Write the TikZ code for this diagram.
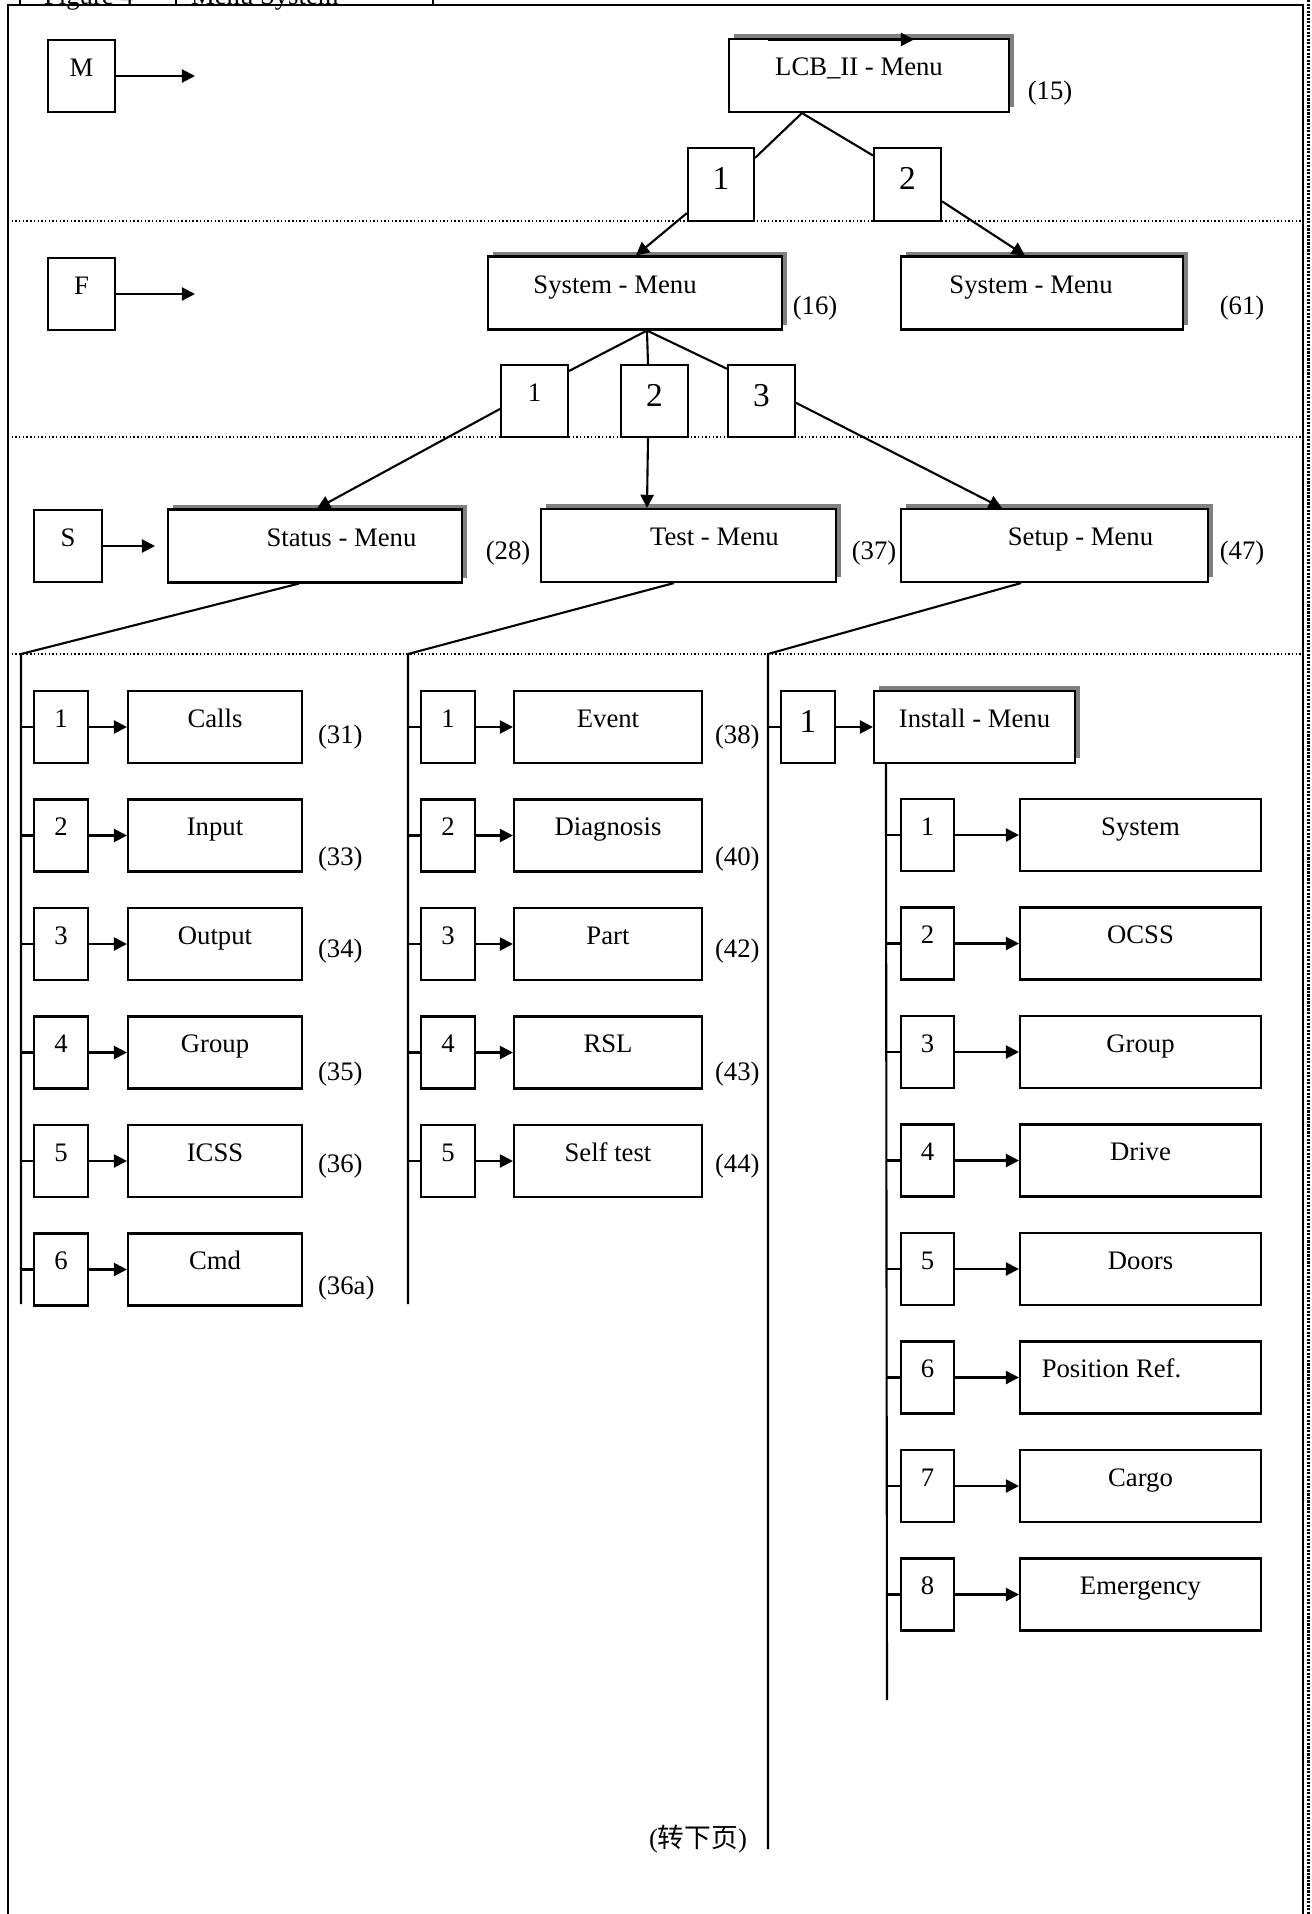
\documentclass[tikz,border=0pt]{standalone}
\usepackage{fontspec}
\setmainfont{Liberation Serif}
\newfontfamily\cjk{Noto Sans CJK SC}
\usepackage{tikz}
\usetikzlibrary{arrows.meta,shadows,calc}

\tikzset{
  cell/.style={draw, fill=white, inner sep=0pt, minimum height=1.44cm,
    text height=10pt, text depth=10pt},
  numbox/.style={cell, minimum width=1.08cm},
  bignum/.style={font=\fontsize{19}{22}\selectfont, text height=14pt, text depth=8pt},
  menubox/.style={cell, minimum height=1.46cm,
    drop shadow={shadow xshift=0.1cm, shadow yshift=0.1cm, fill=gray, opacity=1}},
  lbl/.style={inner sep=0pt},
  arr/.style={-{Triangle[length=7.5pt,width=7.5pt]}},
  sep/.style={line width=0.7pt, dash pattern=on 0.8pt off 1.3pt},
}

\begin{document}
\begin{tikzpicture}[x=0.02cm, y=-0.02cm, line width=1.2pt,
    font=\fontsize{15.2}{18}\selectfont]
  \useasboundingbox (0,0) rectangle (1312,1914);

  % Cornice
  \draw (8,1914) -- (8,5) -- (1303,5) -- (1303,1914);
  \draw[line width=1.6pt, dash pattern=on 1.2pt off 0.8pt] (1308.5,0) -- (1308.5,1914);
  \draw (20,0) -- (20,5) (176,0) -- (176,5) (433,0) -- (433,5);
  \node[anchor=base west, inner sep=0pt] (fig) at (43,4) {Figure 4};
  \node[anchor=base west, inner sep=0pt] (figtitle) at (190,4) {Menu System};

  % Livelli
  \draw[sep] (8,221) -- (1303,221);
  \draw[sep] (8,437) -- (1303,437);
  \draw[sep] (8,654) -- (1303,654);

  % Menu principale
  \node[cell, minimum width=1.34cm] (keyM) at (81.5,76) {M};
  \coordinate (keyMto) at (195,76);
  \draw[arr] (keyM) -- (keyMto);
  \node[menubox, minimum width=5.6cm] (lcb) at (869,75.5) {LCB\_II - Menu\hspace*{0.4cm}};
  \node[lbl] (l15) at (1050,93) {(15)};
  \coordinate (ta) at (768,39.5);
  \coordinate (tb) at (914,39.5);
  \draw[arr] (ta) -- (tb);

  \node[cell, bignum, minimum width=1.32cm, minimum height=1.46cm] (n1a) at (721,184.5) {1};
  \node[cell, bignum, minimum width=1.34cm, minimum height=1.46cm] (n1b) at (907.5,184.5) {2};
  \coordinate (lcbfoot) at ($(lcb.south west)+(74,0)$);
  \draw (lcbfoot) -- (n1a.38);
  \draw (lcbfoot) -- (n1b.140);

  % Livello F
  \node[cell, minimum width=1.34cm] (keyF) at (81.5,294) {F};
  \coordinate (keyFto) at (195,294);
  \draw[arr] (keyF) -- (keyFto);
  \node[menubox, minimum width=5.88cm] (sys16) at (635,293) {System - Menu\hspace*{0.8cm}};
  \node[menubox, minimum width=5.64cm] (sys61) at (1042,293) {System - Menu\hspace*{0.44cm}};
  \node[lbl] (l16) at (815,308) {(16)};
  \node[lbl] (l61) at (1242,308) {(61)};
  \draw[arr] (n1a.220) -- ($(sys16.north west)+(149,0)$);
  \draw[arr] (n1b.-26) -- ($(sys61.north west)+(125,0)$);

  \node[cell, minimum width=1.34cm] (n2a) at (534.5,401) {1};
  \node[cell, bignum, minimum width=1.34cm] (n2b) at (654.5,401) {2};
  \node[cell, bignum, minimum width=1.34cm] (n2c) at (761.5,401) {3};
  \coordinate (sysfoot) at ($(sys16.south west)+(160,0)$);
  \draw (sysfoot) -- (n2a.41);
  \draw (sysfoot) -- ($(n2b.north)+(-6.5,0)$);
  \draw (sysfoot) -- (n2c.137);

  % Livello S
  \node[cell, minimum width=1.36cm] (keyS) at (68,546) {S};
  \coordinate (keySto) at (155,546);
  \draw[arr] (keyS) -- (keySto);
  \node[menubox, minimum width=5.88cm] (status) at (315,546) {\hspace*{1.06cm}Status - Menu};
  \node[menubox, minimum width=5.9cm] (test) at (688.5,545.5) {\hspace*{1.04cm}Test - Menu};
  \node[menubox, minimum width=6.14cm] (setup) at (1054.5,545.5) {\hspace*{1.04cm}Setup - Menu};
  \node[lbl] (l28) at (508,553) {(28)};
  \node[lbl] (l37) at (874,553) {(37)};
  \node[lbl] (l47) at (1242,553) {(47)};
  \draw[arr] (n2a.193) -- ($(status.north west)+(150,0)$);
  \draw[arr] ($(n2b.south)+(-6.5,0)$) -- ($(test.north west)+(107,0)$);
  \draw[arr] (n2c.-3) -- ($(setup.north west)+(102,0)$);

  % Colonne
  \coordinate (c1top) at (21,654);
  \coordinate (c1end) at (21,1304);
  \coordinate (c2top) at (408,654);
  \coordinate (c2end) at (408,1304);
  \coordinate (c3top) at (768,654);
  \coordinate (c3end) at (768,1849);
  \draw ($(status.south west)+(132,0)$) -- (c1top) -- (c1end);
  \draw ($(test.south west)+(134,0)$) -- (c2top) -- (c2end);
  \draw ($(setup.south west)+(121,0)$) -- (c3top) -- (c3end);

  % Status
  \foreach \n/\t/\lab/\ly in {1/Calls/31/737, 2/Input/33/859, 3/Output/34/951,
      4/Group/35/1074, 5/ICSS/36/1166, 6/Cmd/36a/1288}{
    \pgfmathsetmacro\yy{727+108.5*(\n-1)}
    \node[numbox] (sn\n) at (61,\yy) {\n};
    \node[cell, minimum width=3.48cm] (si\n) at (215,\yy) {\t};
    \draw (c1top |- sn\n) -- (sn\n);
    \draw[arr] (sn\n) -- (si\n);
    \node[lbl, anchor=west] (sl\n) at (317,\ly) {(\lab)};
  }

  % Test
  \foreach \n/\t/\lab/\ly in {1/Event/38/737, 2/Diagnosis/40/859, 3/Part/42/951,
      4/RSL/43/1074, 5/Self test/44/1166}{
    \pgfmathsetmacro\yy{727+108.5*(\n-1)}
    \node[numbox] (tn\n) at (448,\yy) {\n};
    \node[cell, minimum width=3.76cm] (ti\n) at (608,\yy) {\t};
    \draw (c2top |- tn\n) -- (tn\n);
    \draw[arr] (tn\n) -- (ti\n);
    \node[lbl, anchor=west] (tl\n) at (714,\ly) {(\lab)};
  }

  % Setup
  \node[numbox, bignum] (c3n) at (808,727) {1};
  \node[menubox, minimum width=4.02cm, minimum height=1.44cm] (install) at (974.5,727) {Install - Menu};
  \draw (c3top |- c3n) -- (c3n);
  \draw[arr] (c3n) -- (install);
  \coordinate (insfoot) at ($(install.south west)+(13,0)$);
  \coordinate (insend) at (887,1700);
  \draw (insfoot) -- (insend);
  \foreach \n/\t in {1/System, 2/OCSS, 3/Group, 4/Drive, 5/Doors,
      6/{Position Ref.\hspace*{1.16cm}}, 7/Cargo, 8/Emergency}{
    \pgfmathsetmacro\yy{835+108.5*(\n-1)}
    \node[numbox, minimum width=1.06cm] (in\n) at (927.5,\yy) {\n};
    \node[cell, minimum width=4.82cm] (ii\n) at (1140.5,\yy) {\t};
    \draw (insfoot |- in\n) -- (in\n);
    \draw[arr] (in\n) -- (ii\n);
  }

  \node[lbl] (cont) at (698,1839) {({\cjk 转下页})};
\end{tikzpicture}
\end{document}
